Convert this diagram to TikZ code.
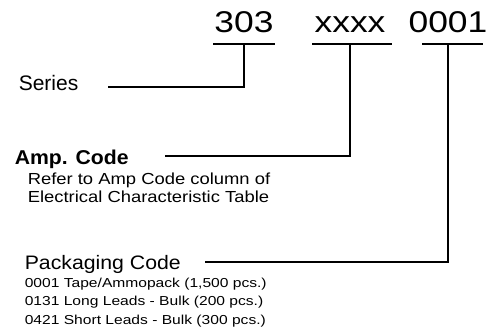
\documentclass[tikz,border=0pt]{standalone}
\usepackage{fontspec}
\setmainfont{Liberation Sans}
\newfontfamily\notefont[FakeStretch=1.15]{Liberation Sans}
\newfontfamily\listfont[FakeStretch=1.2]{Liberation Sans}
\newfontfamily\packfont[FakeStretch=1.09]{Liberation Sans}
\newfontfamily\boldwide[FakeStretch=1.06]{Liberation Sans}
\newfontfamily\codefont[FakeStretch=1.18]{Liberation Sans}
\usetikzlibrary{positioning}

\begin{document}
\begin{tikzpicture}[x=1pt ,y=-1pt ,
line width=1.6pt ,
code/.style ={ anchor=base ,inner xsep=0pt ,inner ysep=11pt ,
font=\codefont\fontsize{30}{30}\selectfont },
label/.style ={ anchor=base west ,inner sep=0pt ,align=left }]
\useasboundingbox (0,0) rectangle (499,330);
% part number
\node[code] (N303) at (244,32) {303};
\node[code] (Nxxxx) at (350,32) {xxxx};
\node[code] (N0001) at (448,32) {0001};
\draw ([xshift=-31pt]N303.south) -- ([xshift=31pt]N303.south);
\draw ([xshift=-38pt]Nxxxx.south) -- ([xshift=42pt]Nxxxx.south);
\draw ([xshift=-26pt]N0001.south) -- ([xshift=35pt]N0001.south);
% labels
\node[label,font=\fontsize{21}{21}\selectfont] (series) at (18,90) {Series};
\node[label,font=\boldwide\bfseries\fontsize{20}{20}\selectfont] (amp) at (14,164) {Amp. Code};
\node[label,font=\notefont\fontsize{16}{18}\selectfont] (ampnote) at (27,202)
{Refer to Amp Code column of\\Electrical Characteristic Table};
\node[label,font=\packfont\fontsize{19.5}{19.5}\selectfont] (pack) at (24,269) {Packaging Code};
\node[label,font=\listfont\fontsize{13}{18.5}\selectfont] (packnote) at (24,324)
{0001 Tape/Ammopack (1,500 pcs.)\\0131 Long Leads - Bulk (200 pcs.)\\0421 Short Leads - Bulk (300 pcs.)};
% leaders
\coordinate (seriesend) at (108,87);
\coordinate (ampend) at (165,156);
\coordinate (packend) at (205,262);
\draw (N303.south) |- (seriesend);
\draw (Nxxxx.south) |- (ampend);
\draw (N0001.south) |- (packend);
\end{tikzpicture}
\end{document}
